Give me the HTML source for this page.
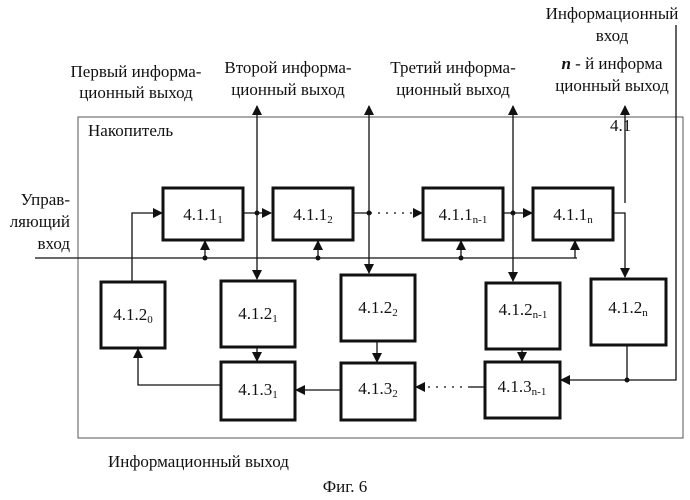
<!DOCTYPE html>
<html><head><meta charset="utf-8"><style>
body{margin:0;background:#fff}
svg{display:block}
text{font-family:"Liberation Serif",serif;font-size:17px;fill:#111}
.t{font-size:17px}
.b{fill:#fff;stroke:#111;stroke-width:3}
.l{stroke:#111;stroke-width:1.3;fill:none}
</style></head><body>
<svg width="690" height="500" viewBox="0 0 690 500">
<defs><marker id="a" markerWidth="10" markerHeight="10" refX="9" refY="5" orient="auto" markerUnits="userSpaceOnUse"><path d="M0,0L10,5L0,10z" fill="#111"/></marker></defs>
<rect x="78" y="117" width="605" height="321" fill="none" stroke="#555" stroke-width="1"/>
<text x="88" y="136">Накопитель</text>
<text x="610" y="131">4.1</text>
<text x="136" y="77" text-anchor="middle">Первый информа-</text>
<text x="136" y="98" text-anchor="middle">ционный выход</text>
<text x="288" y="73" text-anchor="middle">Второй информа-</text>
<text x="288" y="95" text-anchor="middle">ционный выход</text>
<text x="453" y="73" text-anchor="middle">Третий информа-</text>
<text x="453" y="95" text-anchor="middle">ционный выход</text>
<text x="612" y="69" text-anchor="middle"><tspan font-weight="bold" font-style="italic">n</tspan> - й информа</text>
<text x="612" y="91" text-anchor="middle">ционный выход</text>
<text x="612" y="19" text-anchor="middle">Информационный</text>
<text x="612" y="41" text-anchor="middle">вход</text>
<text x="70" y="205" text-anchor="end">Управ-</text>
<text x="70" y="227" text-anchor="end">ляющий</text>
<text x="70" y="249" text-anchor="end">вход</text>
<text x="108" y="467">Информационный выход</text>
<text x="345" y="492" text-anchor="middle">Фиг. 6</text>
<path class="l" d="M35,258H577"/>
<path class="l" d="M205,258V241" marker-end="url(#a)"/>
<path class="l" d="M318,258V241" marker-end="url(#a)"/>
<path class="l" d="M461,258V241" marker-end="url(#a)"/>
<path class="l" d="M575,258V241" marker-end="url(#a)"/>
<path class="l" d="M132,281V213H162" marker-end="url(#a)"/>
<path class="l" d="M243,213H271" marker-end="url(#a)"/>
<path class="l" d="M353,213H370"/><path class="l" d="M370,213H422" stroke-dasharray="2,6" marker-end="url(#a)"/>
<path class="l" d="M503,213H532" marker-end="url(#a)"/>
<path class="l" d="M613,213H625V277" marker-end="url(#a)"/>
<path class="l" d="M625,203V106" marker-end="url(#a)"/>
<path class="l" d="M257,213V106" marker-end="url(#a)"/><path class="l" d="M257,213V279" marker-end="url(#a)"/>
<path class="l" d="M369,213V106" marker-end="url(#a)"/><path class="l" d="M369,213V273" marker-end="url(#a)"/>
<path class="l" d="M513,213V106" marker-end="url(#a)"/><path class="l" d="M513,213V281" marker-end="url(#a)"/>
<path class="l" d="M676,25V380H561" marker-end="url(#a)"/>
<path class="l" d="M627,346V380"/>
<path class="l" d="M257,347V361" marker-end="url(#a)"/>
<path class="l" d="M377,341V362" marker-end="url(#a)"/>
<path class="l" d="M522,350V361" marker-end="url(#a)"/>
<path class="l" d="M340,390H296" marker-end="url(#a)"/>
<path class="l" d="M484,387H470"/><path class="l" d="M470,387H416" stroke-dasharray="2,6" marker-end="url(#a)"/>
<path class="l" d="M220,385H138V349" marker-end="url(#a)"/>
<g fill="#111"><circle cx="205" cy="258" r="2.5"/><circle cx="318" cy="258" r="2.5"/><circle cx="461" cy="258" r="2.5"/>
<circle cx="257" cy="213" r="2.5"/><circle cx="369" cy="213" r="2.5"/><circle cx="513" cy="213" r="2.5"/><circle cx="627" cy="380" r="2.5"/></g>
<rect class="b" x="163" y="188" width="80" height="52"/><text x="203" y="220" text-anchor="middle">4.1.1<tspan font-size="11" dy="3">1</tspan></text>
<rect class="b" x="273" y="188" width="80" height="52"/><text x="313" y="220" text-anchor="middle">4.1.1<tspan font-size="11" dy="3">2</tspan></text>
<rect class="b" x="423" y="188" width="80" height="52"/><text x="463" y="220" text-anchor="middle">4.1.1<tspan font-size="11" dy="3">n-1</tspan></text>
<rect class="b" x="533" y="188" width="80" height="52"/><text x="573" y="220" text-anchor="middle">4.1.1<tspan font-size="11" dy="3">n</tspan></text>
<rect class="b" x="101" y="282" width="64" height="66"/><text x="133" y="320" text-anchor="middle">4.1.2<tspan font-size="11" dy="3">0</tspan></text>
<rect class="b" x="221" y="281" width="74" height="66"/><text x="258" y="319" text-anchor="middle">4.1.2<tspan font-size="11" dy="3">1</tspan></text>
<rect class="b" x="341" y="275" width="74" height="66"/><text x="378" y="313" text-anchor="middle">4.1.2<tspan font-size="11" dy="3">2</tspan></text>
<rect class="b" x="486" y="283" width="74" height="66"/><text x="523" y="315" text-anchor="middle">4.1.2<tspan font-size="11" dy="3">n-1</tspan></text>
<rect class="b" x="591" y="279" width="75" height="66"/><text x="628" y="313" text-anchor="middle">4.1.2<tspan font-size="11" dy="3">n</tspan></text>
<rect class="b" x="221" y="362" width="74" height="58"/><text x="258" y="395" text-anchor="middle">4.1.3<tspan font-size="11" dy="3">1</tspan></text>
<rect class="b" x="341" y="363" width="74" height="57"/><text x="378" y="394" text-anchor="middle">4.1.3<tspan font-size="11" dy="3">2</tspan></text>
<rect class="b" x="485" y="362" width="75" height="56"/><text x="522" y="392" text-anchor="middle">4.1.3<tspan font-size="11" dy="3">n-1</tspan></text>
</svg>
</body></html>
